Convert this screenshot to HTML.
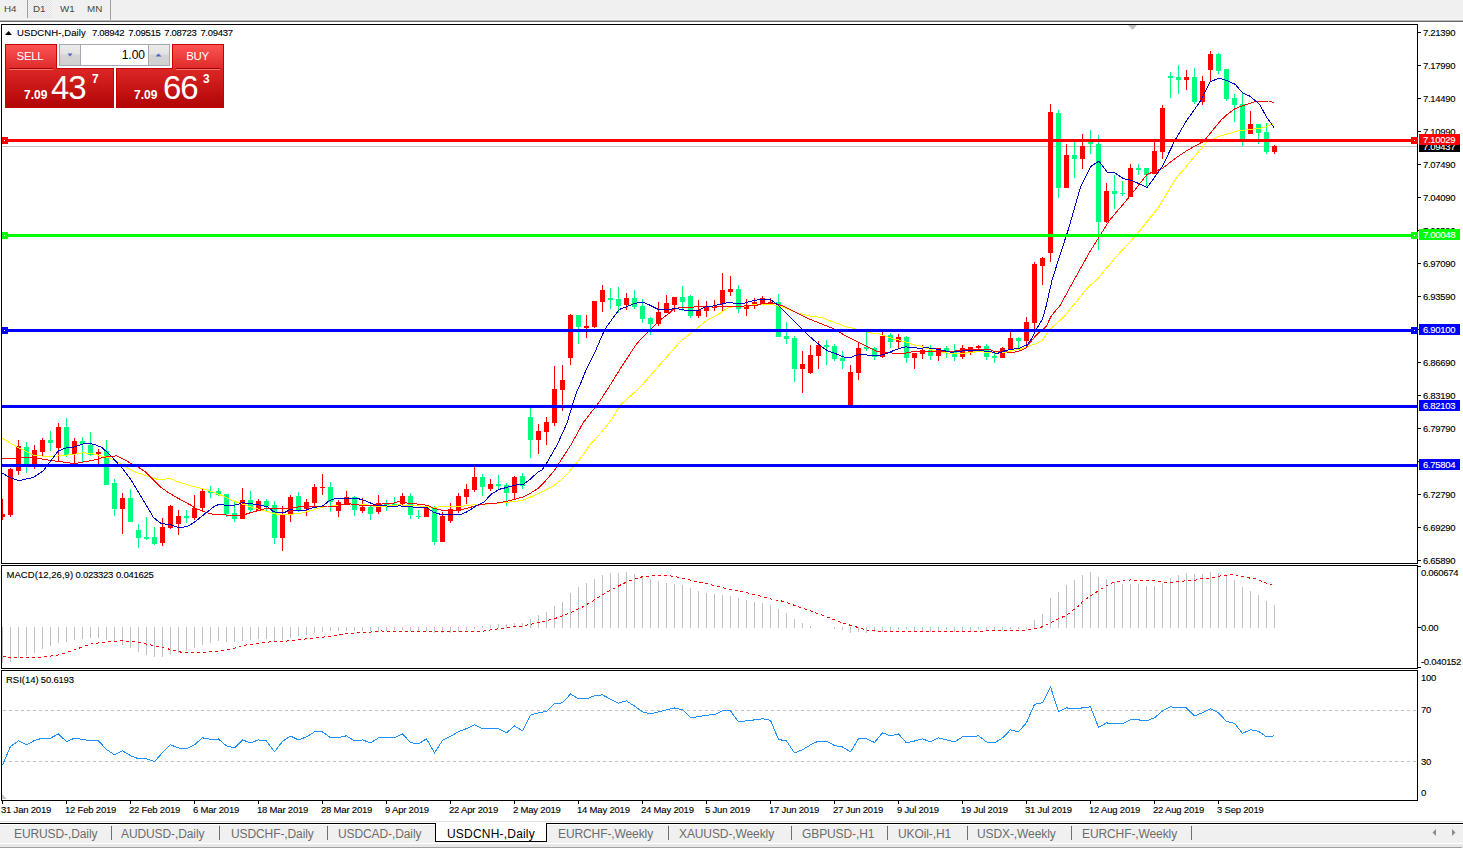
<!DOCTYPE html><html><head><meta charset="utf-8"><title>MT4</title><style>html,body{margin:0;padding:0;background:#fff;width:1463px;height:848px;overflow:hidden;font-family:"Liberation Sans",sans-serif}</style></head><body><svg width="1463" height="848" viewBox="0 0 1463 848" style="position:absolute;left:0;top:0;font-family:'Liberation Sans', sans-serif">
<defs><linearGradient id="gbtn" x1="0" y1="0" x2="0" y2="1"><stop offset="0" stop-color="#ff5555"/><stop offset="1" stop-color="#dd2a2a"/></linearGradient><linearGradient id="gbox" x1="0" y1="0" x2="0" y2="1"><stop offset="0" stop-color="#dc2626"/><stop offset="1" stop-color="#b00404"/></linearGradient><linearGradient id="gspin" x1="0" y1="0" x2="0" y2="1"><stop offset="0" stop-color="#ececec"/><stop offset="0.45" stop-color="#e2e2e2"/><stop offset="0.5" stop-color="#d4d4d4"/><stop offset="1" stop-color="#d0d0d0"/></linearGradient><pattern id="chk" width="2" height="2" patternUnits="userSpaceOnUse"><rect width="2" height="2" fill="#f4f4f4"/><rect width="1" height="1" fill="#e4e4e4"/><rect x="1" y="1" width="1" height="1" fill="#e4e4e4"/></pattern></defs>
<rect x="0" y="0" width="1463" height="848" fill="#ffffff" />
<rect x="0" y="0" width="1463" height="19" fill="#f0f0f0" />
<rect x="0" y="19" width="1463" height="1" fill="#f8f8f8" />
<rect x="0" y="20" width="1463" height="1" fill="#b4b4b4" />
<rect x="0" y="21" width="1463" height="1" fill="#6c6c6c" />
<rect x="28" y="0" width="24" height="18" fill="url(#chk)" />
<rect x="27" y="0" width="1" height="18" fill="#a0a0a0" />
<rect x="110" y="0" width="1" height="20" fill="#a0a0a0" />
<text x="4" y="12" font-size="9.8" fill="#474747">H4</text>
<text x="33" y="12" font-size="9.8" fill="#474747">D1</text>
<text x="60" y="12" font-size="9.8" fill="#474747">W1</text>
<text x="87" y="12" font-size="9.8" fill="#474747">MN</text>
<clipPath id="cm"><rect x="2" y="25" width="1415" height="538"/></clipPath>
<clipPath id="cmacd"><rect x="2" y="566" width="1415" height="102"/></clipPath>
<clipPath id="crsi"><rect x="2" y="671" width="1415" height="129"/></clipPath>
<g clip-path="url(#cm)">
<rect x="2" y="146" width="1415" height="1" fill="#c0c0c0" />
<polygon points="1128,25 1137,25 1132.5,30" fill="#c0c0c0"/>
<g shape-rendering="crispEdges">
<rect x="2" y="499" width="1" height="21" fill="#ff0000"/>
<rect x="0" y="514" width="5" height="3" fill="#ff0000"/>
<rect x="10" y="468" width="1" height="49" fill="#ff0000"/>
<rect x="8" y="469" width="5" height="46" fill="#ff0000"/>
<rect x="18" y="440" width="1" height="35" fill="#ff0000"/>
<rect x="16" y="446" width="5" height="25" fill="#ff0000"/>
<rect x="26" y="442" width="1" height="31" fill="#00ff7f"/>
<rect x="24" y="447" width="5" height="17" fill="#00ff7f"/>
<rect x="34" y="445" width="1" height="24" fill="#ff0000"/>
<rect x="32" y="450" width="5" height="15" fill="#ff0000"/>
<rect x="42" y="438" width="1" height="18" fill="#ff0000"/>
<rect x="40" y="440" width="5" height="12" fill="#ff0000"/>
<rect x="50" y="431" width="1" height="20" fill="#00ff7f"/>
<rect x="48" y="440" width="5" height="3" fill="#00ff7f"/>
<rect x="58" y="423" width="1" height="39" fill="#ff0000"/>
<rect x="56" y="427" width="5" height="21" fill="#ff0000"/>
<rect x="66" y="418" width="1" height="39" fill="#00ff7f"/>
<rect x="64" y="427" width="5" height="28" fill="#00ff7f"/>
<rect x="74" y="438" width="1" height="26" fill="#ff0000"/>
<rect x="72" y="441" width="5" height="13" fill="#ff0000"/>
<rect x="82" y="437" width="1" height="25" fill="#00ff7f"/>
<rect x="80" y="441" width="5" height="3" fill="#00ff7f"/>
<rect x="90" y="432" width="1" height="24" fill="#00ff7f"/>
<rect x="88" y="445" width="5" height="10" fill="#00ff7f"/>
<rect x="98" y="449" width="1" height="15" fill="#ff0000"/>
<rect x="96" y="452" width="5" height="2" fill="#ff0000"/>
<rect x="106" y="440" width="1" height="45" fill="#00ff7f"/>
<rect x="104" y="451" width="5" height="34" fill="#00ff7f"/>
<rect x="114" y="479" width="1" height="37" fill="#00ff7f"/>
<rect x="112" y="483" width="5" height="26" fill="#00ff7f"/>
<rect x="122" y="493" width="1" height="41" fill="#ff0000"/>
<rect x="120" y="498" width="5" height="11" fill="#ff0000"/>
<rect x="130" y="489" width="1" height="33" fill="#00ff7f"/>
<rect x="128" y="498" width="5" height="24" fill="#00ff7f"/>
<rect x="138" y="524" width="1" height="24" fill="#00ff7f"/>
<rect x="136" y="530" width="5" height="8" fill="#00ff7f"/>
<rect x="146" y="517" width="1" height="23" fill="#00ff7f"/>
<rect x="144" y="537" width="5" height="2" fill="#00ff7f"/>
<rect x="154" y="527" width="1" height="18" fill="#00ff7f"/>
<rect x="152" y="537" width="5" height="7" fill="#00ff7f"/>
<rect x="162" y="518" width="1" height="28" fill="#ff0000"/>
<rect x="160" y="527" width="5" height="16" fill="#ff0000"/>
<rect x="170" y="505" width="1" height="24" fill="#ff0000"/>
<rect x="168" y="506" width="5" height="22" fill="#ff0000"/>
<rect x="178" y="510" width="1" height="25" fill="#ff0000"/>
<rect x="176" y="516" width="5" height="8" fill="#ff0000"/>
<rect x="186" y="510" width="1" height="13" fill="#00ff7f"/>
<rect x="184" y="516" width="5" height="2" fill="#00ff7f"/>
<rect x="194" y="495" width="1" height="25" fill="#ff0000"/>
<rect x="192" y="508" width="5" height="10" fill="#ff0000"/>
<rect x="202" y="489" width="1" height="22" fill="#ff0000"/>
<rect x="200" y="491" width="5" height="17" fill="#ff0000"/>
<rect x="210" y="486" width="1" height="12" fill="#00ff7f"/>
<rect x="208" y="491" width="5" height="2" fill="#00ff7f"/>
<rect x="218" y="488" width="1" height="8" fill="#00ff7f"/>
<rect x="216" y="491" width="5" height="4" fill="#00ff7f"/>
<rect x="226" y="494" width="1" height="23" fill="#00ff7f"/>
<rect x="224" y="494" width="5" height="20" fill="#00ff7f"/>
<rect x="234" y="502" width="1" height="20" fill="#00ff7f"/>
<rect x="232" y="513" width="5" height="6" fill="#00ff7f"/>
<rect x="242" y="488" width="1" height="31" fill="#ff0000"/>
<rect x="240" y="500" width="5" height="19" fill="#ff0000"/>
<rect x="250" y="491" width="1" height="21" fill="#00ff7f"/>
<rect x="248" y="500" width="5" height="10" fill="#00ff7f"/>
<rect x="258" y="499" width="1" height="12" fill="#ff0000"/>
<rect x="256" y="501" width="5" height="10" fill="#ff0000"/>
<rect x="266" y="499" width="1" height="12" fill="#00ff7f"/>
<rect x="264" y="501" width="5" height="5" fill="#00ff7f"/>
<rect x="274" y="501" width="1" height="43" fill="#00ff7f"/>
<rect x="272" y="505" width="5" height="33" fill="#00ff7f"/>
<rect x="282" y="506" width="1" height="45" fill="#ff0000"/>
<rect x="280" y="514" width="5" height="24" fill="#ff0000"/>
<rect x="290" y="495" width="1" height="27" fill="#ff0000"/>
<rect x="288" y="497" width="5" height="18" fill="#ff0000"/>
<rect x="298" y="492" width="1" height="20" fill="#00ff7f"/>
<rect x="296" y="496" width="5" height="14" fill="#00ff7f"/>
<rect x="306" y="499" width="1" height="17" fill="#ff0000"/>
<rect x="304" y="502" width="5" height="7" fill="#ff0000"/>
<rect x="314" y="484" width="1" height="23" fill="#ff0000"/>
<rect x="312" y="487" width="5" height="16" fill="#ff0000"/>
<rect x="322" y="474" width="1" height="21" fill="#ff0000"/>
<rect x="320" y="487" width="5" height="1" fill="#ff0000"/>
<rect x="330" y="482" width="1" height="30" fill="#00ff7f"/>
<rect x="328" y="487" width="5" height="15" fill="#00ff7f"/>
<rect x="338" y="500" width="1" height="17" fill="#ff0000"/>
<rect x="336" y="502" width="5" height="9" fill="#ff0000"/>
<rect x="346" y="491" width="1" height="13" fill="#ff0000"/>
<rect x="344" y="497" width="5" height="7" fill="#ff0000"/>
<rect x="354" y="496" width="1" height="20" fill="#00ff7f"/>
<rect x="352" y="497" width="5" height="13" fill="#00ff7f"/>
<rect x="362" y="498" width="1" height="15" fill="#ff0000"/>
<rect x="360" y="507" width="5" height="4" fill="#ff0000"/>
<rect x="370" y="506" width="1" height="14" fill="#00ff7f"/>
<rect x="368" y="507" width="5" height="7" fill="#00ff7f"/>
<rect x="378" y="495" width="1" height="19" fill="#ff0000"/>
<rect x="376" y="503" width="5" height="9" fill="#ff0000"/>
<rect x="386" y="500" width="1" height="11" fill="#00ff7f"/>
<rect x="384" y="503" width="5" height="2" fill="#00ff7f"/>
<rect x="394" y="497" width="1" height="8" fill="#00ff7f"/>
<rect x="392" y="504" width="5" height="1" fill="#00ff7f"/>
<rect x="402" y="493" width="1" height="14" fill="#ff0000"/>
<rect x="400" y="496" width="5" height="8" fill="#ff0000"/>
<rect x="410" y="493" width="1" height="26" fill="#00ff7f"/>
<rect x="408" y="496" width="5" height="19" fill="#00ff7f"/>
<rect x="418" y="510" width="1" height="9" fill="#00ff7f"/>
<rect x="416" y="516" width="5" height="1" fill="#00ff7f"/>
<rect x="426" y="508" width="1" height="9" fill="#ff0000"/>
<rect x="424" y="508" width="5" height="9" fill="#ff0000"/>
<rect x="434" y="506" width="1" height="39" fill="#00ff7f"/>
<rect x="432" y="508" width="5" height="34" fill="#00ff7f"/>
<rect x="442" y="512" width="1" height="30" fill="#ff0000"/>
<rect x="440" y="516" width="5" height="26" fill="#ff0000"/>
<rect x="450" y="503" width="1" height="20" fill="#ff0000"/>
<rect x="448" y="509" width="5" height="12" fill="#ff0000"/>
<rect x="458" y="493" width="1" height="20" fill="#ff0000"/>
<rect x="456" y="496" width="5" height="15" fill="#ff0000"/>
<rect x="466" y="484" width="1" height="20" fill="#ff0000"/>
<rect x="464" y="489" width="5" height="8" fill="#ff0000"/>
<rect x="474" y="467" width="1" height="25" fill="#ff0000"/>
<rect x="472" y="477" width="5" height="13" fill="#ff0000"/>
<rect x="482" y="474" width="1" height="22" fill="#00ff7f"/>
<rect x="480" y="477" width="5" height="10" fill="#00ff7f"/>
<rect x="490" y="479" width="1" height="12" fill="#ff0000"/>
<rect x="488" y="484" width="5" height="5" fill="#ff0000"/>
<rect x="498" y="475" width="1" height="15" fill="#00ff7f"/>
<rect x="496" y="484" width="5" height="2" fill="#00ff7f"/>
<rect x="506" y="483" width="1" height="23" fill="#00ff7f"/>
<rect x="504" y="485" width="5" height="8" fill="#00ff7f"/>
<rect x="514" y="476" width="1" height="24" fill="#ff0000"/>
<rect x="512" y="477" width="5" height="16" fill="#ff0000"/>
<rect x="522" y="473" width="1" height="16" fill="#00ff7f"/>
<rect x="520" y="476" width="5" height="10" fill="#00ff7f"/>
<rect x="530" y="408" width="1" height="50" fill="#00ff7f"/>
<rect x="528" y="417" width="5" height="23" fill="#00ff7f"/>
<rect x="538" y="424" width="1" height="30" fill="#ff0000"/>
<rect x="536" y="431" width="5" height="9" fill="#ff0000"/>
<rect x="546" y="417" width="1" height="28" fill="#ff0000"/>
<rect x="544" y="422" width="5" height="10" fill="#ff0000"/>
<rect x="554" y="366" width="1" height="60" fill="#ff0000"/>
<rect x="552" y="389" width="5" height="34" fill="#ff0000"/>
<rect x="562" y="365" width="1" height="46" fill="#ff0000"/>
<rect x="560" y="380" width="5" height="10" fill="#ff0000"/>
<rect x="570" y="314" width="1" height="51" fill="#ff0000"/>
<rect x="568" y="315" width="5" height="43" fill="#ff0000"/>
<rect x="578" y="315" width="1" height="29" fill="#00ff7f"/>
<rect x="576" y="315" width="5" height="12" fill="#00ff7f"/>
<rect x="586" y="315" width="1" height="23" fill="#ff0000"/>
<rect x="584" y="326" width="5" height="2" fill="#ff0000"/>
<rect x="594" y="301" width="1" height="27" fill="#ff0000"/>
<rect x="592" y="301" width="5" height="26" fill="#ff0000"/>
<rect x="602" y="285" width="1" height="27" fill="#ff0000"/>
<rect x="600" y="290" width="5" height="12" fill="#ff0000"/>
<rect x="610" y="288" width="1" height="21" fill="#00ff7f"/>
<rect x="608" y="298" width="5" height="2" fill="#00ff7f"/>
<rect x="618" y="287" width="1" height="26" fill="#00ff7f"/>
<rect x="616" y="299" width="5" height="7" fill="#00ff7f"/>
<rect x="626" y="293" width="1" height="17" fill="#ff0000"/>
<rect x="624" y="298" width="5" height="7" fill="#ff0000"/>
<rect x="634" y="290" width="1" height="19" fill="#00ff7f"/>
<rect x="632" y="298" width="5" height="9" fill="#00ff7f"/>
<rect x="642" y="299" width="1" height="24" fill="#00ff7f"/>
<rect x="640" y="306" width="5" height="13" fill="#00ff7f"/>
<rect x="650" y="317" width="1" height="18" fill="#00ff7f"/>
<rect x="648" y="318" width="5" height="6" fill="#00ff7f"/>
<rect x="658" y="302" width="1" height="24" fill="#ff0000"/>
<rect x="656" y="312" width="5" height="12" fill="#ff0000"/>
<rect x="666" y="295" width="1" height="18" fill="#ff0000"/>
<rect x="664" y="303" width="5" height="10" fill="#ff0000"/>
<rect x="674" y="297" width="1" height="15" fill="#ff0000"/>
<rect x="672" y="297" width="5" height="8" fill="#ff0000"/>
<rect x="682" y="286" width="1" height="25" fill="#00ff7f"/>
<rect x="680" y="297" width="5" height="5" fill="#00ff7f"/>
<rect x="690" y="295" width="1" height="23" fill="#00ff7f"/>
<rect x="688" y="296" width="5" height="20" fill="#00ff7f"/>
<rect x="698" y="300" width="1" height="18" fill="#ff0000"/>
<rect x="696" y="310" width="5" height="6" fill="#ff0000"/>
<rect x="706" y="301" width="1" height="16" fill="#ff0000"/>
<rect x="704" y="306" width="5" height="5" fill="#ff0000"/>
<rect x="714" y="300" width="1" height="11" fill="#ff0000"/>
<rect x="712" y="307" width="5" height="1" fill="#ff0000"/>
<rect x="722" y="273" width="1" height="38" fill="#ff0000"/>
<rect x="720" y="290" width="5" height="14" fill="#ff0000"/>
<rect x="730" y="276" width="1" height="20" fill="#ff0000"/>
<rect x="728" y="289" width="5" height="3" fill="#ff0000"/>
<rect x="738" y="285" width="1" height="28" fill="#00ff7f"/>
<rect x="736" y="289" width="5" height="20" fill="#00ff7f"/>
<rect x="746" y="299" width="1" height="17" fill="#ff0000"/>
<rect x="744" y="306" width="5" height="3" fill="#ff0000"/>
<rect x="754" y="298" width="1" height="11" fill="#ff0000"/>
<rect x="752" y="302" width="5" height="4" fill="#ff0000"/>
<rect x="762" y="296" width="1" height="8" fill="#ff0000"/>
<rect x="760" y="298" width="5" height="6" fill="#ff0000"/>
<rect x="770" y="298" width="1" height="6" fill="#ff0000"/>
<rect x="768" y="302" width="5" height="2" fill="#ff0000"/>
<rect x="778" y="294" width="1" height="43" fill="#00ff7f"/>
<rect x="776" y="302" width="5" height="35" fill="#00ff7f"/>
<rect x="786" y="322" width="1" height="22" fill="#00ff7f"/>
<rect x="784" y="336" width="5" height="3" fill="#00ff7f"/>
<rect x="794" y="336" width="1" height="46" fill="#00ff7f"/>
<rect x="792" y="338" width="5" height="31" fill="#00ff7f"/>
<rect x="802" y="351" width="1" height="42" fill="#ff0000"/>
<rect x="800" y="364" width="5" height="5" fill="#ff0000"/>
<rect x="810" y="345" width="1" height="29" fill="#ff0000"/>
<rect x="808" y="355" width="5" height="18" fill="#ff0000"/>
<rect x="818" y="341" width="1" height="28" fill="#ff0000"/>
<rect x="816" y="345" width="5" height="11" fill="#ff0000"/>
<rect x="826" y="340" width="1" height="25" fill="#00ff7f"/>
<rect x="824" y="345" width="5" height="2" fill="#00ff7f"/>
<rect x="834" y="344" width="1" height="17" fill="#00ff7f"/>
<rect x="832" y="346" width="5" height="13" fill="#00ff7f"/>
<rect x="842" y="351" width="1" height="18" fill="#00ff7f"/>
<rect x="840" y="358" width="5" height="3" fill="#00ff7f"/>
<rect x="850" y="365" width="1" height="40" fill="#ff0000"/>
<rect x="848" y="372" width="5" height="33" fill="#ff0000"/>
<rect x="858" y="342" width="1" height="38" fill="#ff0000"/>
<rect x="856" y="348" width="5" height="25" fill="#ff0000"/>
<rect x="866" y="332" width="1" height="19" fill="#00ff7f"/>
<rect x="864" y="347" width="5" height="2" fill="#00ff7f"/>
<rect x="874" y="347" width="1" height="13" fill="#00ff7f"/>
<rect x="872" y="348" width="5" height="9" fill="#00ff7f"/>
<rect x="882" y="332" width="1" height="26" fill="#ff0000"/>
<rect x="880" y="336" width="5" height="21" fill="#ff0000"/>
<rect x="890" y="333" width="1" height="15" fill="#00ff7f"/>
<rect x="888" y="335" width="5" height="7" fill="#00ff7f"/>
<rect x="898" y="334" width="1" height="14" fill="#ff0000"/>
<rect x="896" y="337" width="5" height="5" fill="#ff0000"/>
<rect x="906" y="336" width="1" height="27" fill="#00ff7f"/>
<rect x="904" y="337" width="5" height="21" fill="#00ff7f"/>
<rect x="914" y="353" width="1" height="16" fill="#ff0000"/>
<rect x="912" y="353" width="5" height="5" fill="#ff0000"/>
<rect x="922" y="345" width="1" height="14" fill="#ff0000"/>
<rect x="920" y="350" width="5" height="4" fill="#ff0000"/>
<rect x="930" y="345" width="1" height="15" fill="#00ff7f"/>
<rect x="928" y="350" width="5" height="6" fill="#00ff7f"/>
<rect x="938" y="348" width="1" height="13" fill="#ff0000"/>
<rect x="936" y="348" width="5" height="8" fill="#ff0000"/>
<rect x="946" y="346" width="1" height="12" fill="#00ff7f"/>
<rect x="944" y="348" width="5" height="4" fill="#00ff7f"/>
<rect x="954" y="344" width="1" height="17" fill="#00ff7f"/>
<rect x="952" y="352" width="5" height="5" fill="#00ff7f"/>
<rect x="962" y="345" width="1" height="14" fill="#ff0000"/>
<rect x="960" y="348" width="5" height="9" fill="#ff0000"/>
<rect x="970" y="347" width="1" height="8" fill="#ff0000"/>
<rect x="968" y="347" width="5" height="6" fill="#ff0000"/>
<rect x="978" y="345" width="1" height="7" fill="#ff0000"/>
<rect x="976" y="346" width="5" height="2" fill="#ff0000"/>
<rect x="986" y="344" width="1" height="16" fill="#00ff7f"/>
<rect x="984" y="346" width="5" height="11" fill="#00ff7f"/>
<rect x="994" y="352" width="1" height="11" fill="#00ff7f"/>
<rect x="992" y="356" width="5" height="2" fill="#00ff7f"/>
<rect x="1002" y="347" width="1" height="11" fill="#ff0000"/>
<rect x="1000" y="348" width="5" height="10" fill="#ff0000"/>
<rect x="1010" y="332" width="1" height="21" fill="#ff0000"/>
<rect x="1008" y="338" width="5" height="12" fill="#ff0000"/>
<rect x="1018" y="337" width="1" height="11" fill="#00ff7f"/>
<rect x="1016" y="338" width="5" height="3" fill="#00ff7f"/>
<rect x="1026" y="317" width="1" height="27" fill="#ff0000"/>
<rect x="1024" y="322" width="5" height="19" fill="#ff0000"/>
<rect x="1034" y="262" width="1" height="68" fill="#ff0000"/>
<rect x="1032" y="264" width="5" height="59" fill="#ff0000"/>
<rect x="1042" y="257" width="1" height="28" fill="#ff0000"/>
<rect x="1040" y="258" width="5" height="8" fill="#ff0000"/>
<rect x="1050" y="104" width="1" height="158" fill="#ff0000"/>
<rect x="1048" y="112" width="5" height="141" fill="#ff0000"/>
<rect x="1058" y="110" width="1" height="88" fill="#00ff7f"/>
<rect x="1056" y="113" width="5" height="75" fill="#00ff7f"/>
<rect x="1066" y="144" width="1" height="44" fill="#ff0000"/>
<rect x="1064" y="155" width="5" height="33" fill="#ff0000"/>
<rect x="1074" y="142" width="1" height="36" fill="#00ff7f"/>
<rect x="1072" y="155" width="5" height="4" fill="#00ff7f"/>
<rect x="1082" y="134" width="1" height="35" fill="#ff0000"/>
<rect x="1080" y="146" width="5" height="13" fill="#ff0000"/>
<rect x="1090" y="130" width="1" height="24" fill="#00ff7f"/>
<rect x="1088" y="142" width="5" height="2" fill="#00ff7f"/>
<rect x="1098" y="135" width="1" height="115" fill="#00ff7f"/>
<rect x="1096" y="144" width="5" height="78" fill="#00ff7f"/>
<rect x="1106" y="183" width="1" height="40" fill="#ff0000"/>
<rect x="1104" y="191" width="5" height="31" fill="#ff0000"/>
<rect x="1114" y="175" width="1" height="34" fill="#00ff7f"/>
<rect x="1112" y="191" width="5" height="3" fill="#00ff7f"/>
<rect x="1122" y="181" width="1" height="15" fill="#00ff7f"/>
<rect x="1120" y="193" width="5" height="1" fill="#00ff7f"/>
<rect x="1130" y="164" width="1" height="33" fill="#ff0000"/>
<rect x="1128" y="168" width="5" height="29" fill="#ff0000"/>
<rect x="1138" y="164" width="1" height="11" fill="#00ff7f"/>
<rect x="1136" y="168" width="5" height="2" fill="#00ff7f"/>
<rect x="1146" y="168" width="1" height="18" fill="#00ff7f"/>
<rect x="1144" y="168" width="5" height="7" fill="#00ff7f"/>
<rect x="1154" y="142" width="1" height="32" fill="#ff0000"/>
<rect x="1152" y="151" width="5" height="23" fill="#ff0000"/>
<rect x="1162" y="105" width="1" height="54" fill="#ff0000"/>
<rect x="1160" y="108" width="5" height="44" fill="#ff0000"/>
<rect x="1170" y="72" width="1" height="26" fill="#00ff7f"/>
<rect x="1168" y="76" width="5" height="2" fill="#00ff7f"/>
<rect x="1178" y="65" width="1" height="29" fill="#00ff7f"/>
<rect x="1176" y="77" width="5" height="3" fill="#00ff7f"/>
<rect x="1186" y="70" width="1" height="20" fill="#ff0000"/>
<rect x="1184" y="77" width="5" height="3" fill="#ff0000"/>
<rect x="1194" y="68" width="1" height="36" fill="#00ff7f"/>
<rect x="1192" y="77" width="5" height="25" fill="#00ff7f"/>
<rect x="1202" y="76" width="1" height="29" fill="#ff0000"/>
<rect x="1200" y="81" width="5" height="21" fill="#ff0000"/>
<rect x="1210" y="51" width="1" height="31" fill="#ff0000"/>
<rect x="1208" y="54" width="5" height="16" fill="#ff0000"/>
<rect x="1218" y="53" width="1" height="21" fill="#00ff7f"/>
<rect x="1216" y="54" width="5" height="17" fill="#00ff7f"/>
<rect x="1226" y="69" width="1" height="32" fill="#00ff7f"/>
<rect x="1224" y="69" width="5" height="30" fill="#00ff7f"/>
<rect x="1234" y="94" width="1" height="28" fill="#00ff7f"/>
<rect x="1232" y="98" width="5" height="7" fill="#00ff7f"/>
<rect x="1242" y="93" width="1" height="53" fill="#00ff7f"/>
<rect x="1240" y="104" width="5" height="35" fill="#00ff7f"/>
<rect x="1250" y="111" width="1" height="23" fill="#ff0000"/>
<rect x="1248" y="124" width="5" height="10" fill="#ff0000"/>
<rect x="1258" y="124" width="1" height="20" fill="#00ff7f"/>
<rect x="1256" y="124" width="5" height="9" fill="#00ff7f"/>
<rect x="1266" y="123" width="1" height="31" fill="#00ff7f"/>
<rect x="1264" y="132" width="5" height="20" fill="#00ff7f"/>
<rect x="1274" y="145" width="1" height="9" fill="#ff0000"/>
<rect x="1272" y="146" width="5" height="6" fill="#ff0000"/>
</g>
<polyline points="2.5,438.5 17.0,446.9 33.5,455.1 50.0,456.8 58.3,455.9 74.8,454.3 83.0,452.5 91.3,453.8 94.5,454.1 101.9,456.3 109.2,457.8 116.6,461.5 124.0,465.9 131.4,470.3 138.7,473.3 146.1,475.5 153.5,478.4 160.9,479.9 169.7,478.4 177.1,481.4 185.9,484.3 190.5,485.9 196.4,487.0 202.3,488.8 208.2,490.2 214.1,492.6 220.0,494.7 225.9,497.6 231.8,500.4 237.7,502.4 243.5,504.4 249.5,506.5 255.4,508.3 261.3,510.0 267.2,511.4 273.0,513.3 278.9,514.5 290.5,514.1 298.9,513.8 307.1,511.7 315.4,509.3 323.7,506.6 331.9,506.0 344.3,504.7 356.7,504.7 364.9,504.7 373.2,506.0 382.5,506.5 391.5,505.7 399.3,504.8 410.5,505.7 421.7,506.1 432.9,507.6 439.6,506.8 451.9,506.8 460.9,506.5 472.1,504.8 482.5,504.5 491.5,503.6 507.0,502.3 522.6,500.4 530.4,497.1 538.2,493.6 545.9,490.0 553.7,485.5 561.5,479.6 570.2,470.5 583.0,454.8 590.4,444.2 600.5,433.5 610.9,420.5 620.5,405.0 640.1,387.2 664.9,359.0 680.7,341.3 694.0,330.5 707.2,320.0 720.5,313.0 721.9,311.5 728.9,307.5 734.2,306.6 744.0,306.3 752.8,304.8 761.7,304.4 771.4,304.4 779.3,306.3 782.5,307.0 795.5,312.2 808.5,315.8 821.4,317.4 834.4,322.5 847.4,327.1 857.7,329.3 873.3,333.6 878.5,333.8 885.3,335.9 892.2,338.6 899.0,340.0 905.8,342.0 912.7,344.4 919.5,346.1 926.3,348.2 933.2,350.2 940.0,351.9 946.9,353.0 953.7,354.0 955.5,353.0 966.5,353.0 967.5,352.0 974.5,352.0 975.5,351.0 983.5,351.0 984.5,352.0 1006.5,352.0 1007.5,351.0 1010.5,351.0 1019.9,349.2 1028.2,346.3 1036.4,343.4 1043.0,339.7 1048.8,330.2 1055.4,324.5 1063.7,317.0 1074.5,303.8 1088.8,286.4 1096.2,280.5 1115.5,257.5 1135.8,235.7 1158.4,207.4 1175.4,179.1 1192.3,159.3 1206.5,142.3 1217.8,136.7 1237.6,131.0 1260.2,128.2 1266.5,126.5 1271.3,124.6 1274.5,123.7" fill="none" stroke="#ffff00" stroke-width="1" stroke-linejoin="round" shape-rendering="crispEdges" />
<polyline points="2.5,458.7 17.0,458.1 33.5,457.5 50.0,460.4 66.5,462.5 74.8,463.7 83.0,462.0 94.5,460.0 101.9,457.8 109.2,456.3 116.6,455.9 124.0,459.3 131.4,463.7 138.7,467.4 146.1,472.5 153.5,479.9 160.9,487.3 168.2,492.4 175.6,496.9 183.0,501.0 190.4,505.0 196.4,508.8 202.3,511.0 208.2,513.0 214.1,514.5 225.9,515.0 231.8,515.9 237.7,515.9 243.5,515.0 249.5,513.0 255.4,511.4 261.3,509.8 267.2,508.3 273.0,508.6 284.8,508.8 290.5,507.7 300.5,506.8 310.5,506.8 319.5,506.6 327.5,506.0 335.5,506.8 340.5,505.0 350.5,503.9 358.5,505.0 368.5,505.8 377.5,505.0 382.5,503.9 393.5,503.1 399.5,501.4 407.5,503.1 416.5,503.9 427.5,505.3 433.5,508.1 441.5,510.1 450.5,510.4 458.5,510.4 467.5,508.1 475.5,505.9 482.5,504.2 495.5,503.2 508.5,501.0 522.5,497.1 530.5,493.2 538.5,488.0 545.5,480.9 554.3,470.5 571.3,444.2 583.0,423.0 599.4,401.7 608.2,388.2 620.5,368.4 635.5,345.5 640.0,339.9 648.3,331.7 654.9,325.0 661.5,318.9 668.9,313.5 673.1,309.4 678.9,307.9 690.5,307.9 697.1,306.2 704.2,306.3 713.0,307.1 721.9,306.6 730.7,306.3 739.5,306.3 748.4,305.7 757.2,305.1 764.3,303.1 771.4,303.1 779.3,304.8 782.5,305.9 795.5,312.2 808.5,318.7 821.4,323.8 834.4,329.0 844.8,335.5 855.1,340.7 865.5,345.6 875.9,351.1 882.5,352.4 892.2,353.0 905.8,353.0 911.3,351.9 918.1,351.9 922.9,350.9 927.7,351.6 940.0,351.9 953.7,351.9 955.5,351.0 960.5,349.9 965.5,349.7 990.5,349.7 992.5,351.0 999.5,351.0 1006.5,352.0 1010.5,352.0 1014.1,352.1 1019.9,350.9 1025.7,348.4 1029.0,343.7 1037.5,333.8 1046.0,326.7 1051.6,315.4 1060.1,305.5 1068.6,289.9 1080.5,268.4 1090.5,250.7 1109.4,220.5 1130.1,196.0 1147.1,174.3 1162.2,168.6 1175.4,158.2 1186.7,150.7 1203.7,141.3 1220.7,120.5 1226.8,114.8 1235.3,108.5 1245.2,104.9 1256.5,101.3 1268.9,101.0 1274.0,102.8" fill="none" stroke="#ff0000" stroke-width="1" stroke-linejoin="round" shape-rendering="crispEdges" />
<polyline points="2.5,473.3 10.4,477.9 18.7,480.7 33.5,477.4 43.4,470.8 50.0,461.7 58.3,451.0 66.5,447.7 74.8,446.9 83.0,443.9 91.3,443.9 94.5,444.5 101.9,447.5 109.2,454.1 116.6,462.2 124.0,470.3 131.4,480.6 138.7,492.5 146.1,505.0 153.5,517.5 160.9,523.4 171.2,524.9 179.3,527.8 187.4,526.4 190.5,524.8 196.4,520.6 202.3,515.9 208.2,511.2 214.1,506.5 220.0,503.9 225.9,505.5 231.8,505.9 237.7,504.4 242.4,502.4 249.5,503.9 255.4,504.1 261.3,505.5 267.2,506.5 273.0,511.4 278.9,513.0 284.8,512.4 290.5,509.4 295.6,510.8 301.8,510.8 307.1,509.7 313.7,507.6 322.8,505.8 329.4,500.6 334.8,498.7 344.3,498.7 358.3,498.7 364.1,500.2 370.7,503.1 376.5,505.1 386.5,506.0 391.5,506.8 399.3,505.9 407.1,506.5 415.0,507.2 427.3,507.9 434.0,512.6 440.7,514.3 449.7,514.9 459.8,514.9 466.5,512.1 475.4,506.5 483.7,502.3 491.5,493.9 499.3,489.3 507.0,487.4 514.8,485.1 523.2,484.5 530.4,479.0 538.2,471.8 541.5,470.5 545.3,465.5 557.5,444.2 567.0,423.0 571.8,407.0 577.1,391.1 581.9,380.5 585.5,371.2 594.1,354.2 602.5,334.5 606.2,327.5 612.0,319.3 619.4,309.4 625.2,307.3 633.4,304.0 640.0,302.3 644.2,302.8 650.0,305.2 659.0,309.8 669.8,309.8 673.1,308.5 678.9,308.9 687.1,310.6 693.6,311.0 698.9,310.2 704.2,307.1 713.0,306.0 721.9,304.0 727.2,302.8 735.1,303.1 743.1,303.5 750.2,301.3 759.9,299.5 770.5,299.5 777.6,304.8 782.5,309.6 790.3,317.4 798.1,325.1 805.8,332.9 813.6,340.1 821.4,346.5 827.9,351.1 835.7,353.7 843.5,356.9 849.9,357.8 857.7,354.7 866.8,355.0 875.9,356.0 882.5,354.7 889.4,352.6 894.2,350.2 900.4,348.2 905.8,346.8 911.3,347.5 919.5,348.2 926.3,347.8 933.2,348.4 940.0,349.9 946.9,351.3 952.3,352.6 955.5,351.5 967.4,350.6 978.5,350.1 983.5,351.0 989.5,351.0 994.5,353.0 998.5,353.0 1004.5,351.0 1009.5,349.7 1019.9,348.0 1027.3,344.7 1032.3,337.7 1037.3,327.8 1042.2,319.5 1045.5,308.8 1052.0,280.3 1061.2,251.1 1068.8,228.1 1080.4,187.5 1090.5,166.7 1099.0,161.1 1107.5,172.4 1115.0,173.0 1123.5,178.6 1132.0,180.5 1147.1,187.5 1162.2,166.7 1175.4,139.4 1186.7,120.5 1200.5,100.9 1210.0,82.0 1219.0,78.0 1226.8,80.6 1235.3,84.4 1242.5,92.8 1249.5,96.0 1256.0,101.3 1259.8,104.9 1267.2,118.1 1271.3,123.5 1274.0,127.9" fill="none" stroke="#0000c8" stroke-width="1" stroke-linejoin="round" shape-rendering="crispEdges" />
<rect x="2" y="139" width="1415" height="3" fill="#ff0000" shape-rendering="crispEdges"/>
<rect x="1" y="137" width="7" height="7" fill="#ff0000" />
<rect x="4" y="140" width="1" height="1" fill="#ffffff" />
<rect x="1411" y="137" width="7" height="7" fill="#ff0000" />
<rect x="1414" y="140" width="1" height="1" fill="#ffffff" />
<rect x="2" y="234" width="1415" height="3" fill="#00ff00" shape-rendering="crispEdges"/>
<rect x="1" y="232" width="7" height="7" fill="#00ff00" />
<rect x="4" y="235" width="1" height="1" fill="#ffffff" />
<rect x="1411" y="232" width="7" height="7" fill="#00ff00" />
<rect x="1414" y="235" width="1" height="1" fill="#ffffff" />
<rect x="2" y="329" width="1415" height="3" fill="#0000ff" shape-rendering="crispEdges"/>
<rect x="1" y="327" width="7" height="7" fill="#0000ff" />
<rect x="4" y="330" width="1" height="1" fill="#ffffff" />
<rect x="1411" y="327" width="7" height="7" fill="#0000ff" />
<rect x="1414" y="330" width="1" height="1" fill="#ffffff" />
<rect x="2" y="405" width="1415" height="3" fill="#0000ff" shape-rendering="crispEdges"/>
<rect x="2" y="464" width="1415" height="3" fill="#0000ff" shape-rendering="crispEdges"/>
</g>
<polygon points="5,35 12,35 8.5,31" fill="#000"/>
<text x="17" y="36" font-size="9.5" fill="#000" stroke="#000" stroke-width="0.12" letter-spacing="0.1">USDCNH-,Daily</text>
<text x="92" y="36" font-size="9.5" fill="#000" stroke="#000" stroke-width="0.12" letter-spacing="-0.3">7.08942</text>
<text x="128.2" y="36" font-size="9.5" fill="#000" stroke="#000" stroke-width="0.12" letter-spacing="-0.3">7.09515</text>
<text x="164.3" y="36" font-size="9.5" fill="#000" stroke="#000" stroke-width="0.12" letter-spacing="-0.3">7.08723</text>
<text x="200.4" y="36" font-size="9.5" fill="#000" stroke="#000" stroke-width="0.12" letter-spacing="-0.3">7.09437</text>
<rect x="59" y="44" width="111" height="22" fill="#ffffff" />
<rect x="57" y="44" width="115" height="24" fill="#ffffff" />
<rect x="5" y="44" width="52" height="25" fill="url(#gbtn)" />
<rect x="5" y="69" width="109" height="39" fill="url(#gbox)" />
<rect x="9" y="68" width="44" height="1" fill="#a00000" />
<rect x="9" y="69" width="44" height="1" fill="#f87070" />
<path d="M5.5,44.5 H56.5 V68.5 H113.5 V107.5 H5.5 Z" fill="none" stroke="#c40000" stroke-width="1" shape-rendering="crispEdges"/>
<rect x="172" y="44" width="52" height="25" fill="url(#gbtn)" />
<rect x="116" y="69" width="108" height="39" fill="url(#gbox)" />
<rect x="176" y="68" width="44" height="1" fill="#a00000" />
<rect x="176" y="69" width="44" height="1" fill="#f87070" />
<path d="M172.5,44.5 H223.5 V107.5 H116.5 V68.5 H172.5 Z" fill="none" stroke="#c40000" stroke-width="1" shape-rendering="crispEdges"/>
<rect x="59" y="44" width="111" height="22" fill="#a8a8b0" />
<rect x="60" y="45" width="109" height="20" fill="#ffffff" />
<rect x="60" y="45" width="20" height="20" fill="url(#gspin)" />
<rect x="80" y="45" width="1" height="20" fill="#a8a8b0" />
<rect x="149" y="45" width="20" height="20" fill="url(#gspin)" />
<rect x="148" y="45" width="1" height="20" fill="#a8a8b0" />
<polygon points="67.5,53.5 72.5,53.5 70,56.5" fill="#5060c8"/>
<polygon points="155.5,56.5 161.5,56.5 158.5,53.5" fill="#5060c8"/>
<text x="145" y="59" font-size="12" fill="#000" text-anchor="end" font-weight="normal" >1.00</text>
<text x="30" y="60" font-size="11.5" fill="#ffffff" text-anchor="middle" font-weight="normal" letter-spacing="-0.3">SELL</text>
<text x="197.5" y="60" font-size="11.5" fill="#ffffff" text-anchor="middle" font-weight="normal" letter-spacing="-0.3">BUY</text>
<text x="24" y="99" font-size="12" fill="#ffffff" text-anchor="start" font-weight="bold" >7.09</text>
<text x="51" y="99" font-size="33" fill="#ffffff" text-anchor="start" font-weight="normal" letter-spacing="-1">43</text>
<text x="92" y="83" font-size="12" fill="#ffffff" text-anchor="start" font-weight="bold" >7</text>
<text x="134" y="99" font-size="12" fill="#ffffff" text-anchor="start" font-weight="bold" >7.09</text>
<text x="163" y="99" font-size="33" fill="#ffffff" text-anchor="start" font-weight="normal" letter-spacing="-1">66</text>
<text x="203" y="83" font-size="12" fill="#ffffff" text-anchor="start" font-weight="bold" >3</text>
<g clip-path="url(#cmacd)">
<g shape-rendering="crispEdges">
<rect x="2" y="627" width="1" height="36" fill="#c0c0c0" />
<rect x="10" y="627" width="1" height="35" fill="#c0c0c0" />
<rect x="18" y="627" width="1" height="31" fill="#c0c0c0" />
<rect x="26" y="627" width="1" height="29" fill="#c0c0c0" />
<rect x="34" y="627" width="1" height="26" fill="#c0c0c0" />
<rect x="42" y="627" width="1" height="22" fill="#c0c0c0" />
<rect x="50" y="627" width="1" height="19" fill="#c0c0c0" />
<rect x="58" y="627" width="1" height="16" fill="#c0c0c0" />
<rect x="66" y="627" width="1" height="15" fill="#c0c0c0" />
<rect x="74" y="627" width="1" height="13" fill="#c0c0c0" />
<rect x="82" y="627" width="1" height="12" fill="#c0c0c0" />
<rect x="90" y="627" width="1" height="11" fill="#c0c0c0" />
<rect x="98" y="627" width="1" height="11" fill="#c0c0c0" />
<rect x="106" y="627" width="1" height="13" fill="#c0c0c0" />
<rect x="114" y="627" width="1" height="15" fill="#c0c0c0" />
<rect x="122" y="627" width="1" height="18" fill="#c0c0c0" />
<rect x="130" y="627" width="1" height="21" fill="#c0c0c0" />
<rect x="138" y="627" width="1" height="25" fill="#c0c0c0" />
<rect x="146" y="627" width="1" height="28" fill="#c0c0c0" />
<rect x="154" y="627" width="1" height="30" fill="#c0c0c0" />
<rect x="162" y="627" width="1" height="30" fill="#c0c0c0" />
<rect x="170" y="627" width="1" height="28" fill="#c0c0c0" />
<rect x="178" y="627" width="1" height="26" fill="#c0c0c0" />
<rect x="186" y="627" width="1" height="24" fill="#c0c0c0" />
<rect x="194" y="627" width="1" height="21" fill="#c0c0c0" />
<rect x="202" y="627" width="1" height="18" fill="#c0c0c0" />
<rect x="210" y="627" width="1" height="16" fill="#c0c0c0" />
<rect x="218" y="627" width="1" height="14" fill="#c0c0c0" />
<rect x="226" y="627" width="1" height="15" fill="#c0c0c0" />
<rect x="234" y="627" width="1" height="15" fill="#c0c0c0" />
<rect x="242" y="627" width="1" height="14" fill="#c0c0c0" />
<rect x="250" y="627" width="1" height="13" fill="#c0c0c0" />
<rect x="258" y="627" width="1" height="12" fill="#c0c0c0" />
<rect x="266" y="627" width="1" height="12" fill="#c0c0c0" />
<rect x="274" y="627" width="1" height="14" fill="#c0c0c0" />
<rect x="282" y="627" width="1" height="13" fill="#c0c0c0" />
<rect x="290" y="627" width="1" height="11" fill="#c0c0c0" />
<rect x="298" y="627" width="1" height="9" fill="#c0c0c0" />
<rect x="306" y="627" width="1" height="8" fill="#c0c0c0" />
<rect x="314" y="627" width="1" height="6" fill="#c0c0c0" />
<rect x="322" y="627" width="1" height="5" fill="#c0c0c0" />
<rect x="330" y="627" width="1" height="4" fill="#c0c0c0" />
<rect x="338" y="627" width="1" height="4" fill="#c0c0c0" />
<rect x="346" y="627" width="1" height="4" fill="#c0c0c0" />
<rect x="354" y="627" width="1" height="4" fill="#c0c0c0" />
<rect x="362" y="627" width="1" height="4" fill="#c0c0c0" />
<rect x="370" y="627" width="1" height="4" fill="#c0c0c0" />
<rect x="378" y="627" width="1" height="5" fill="#c0c0c0" />
<rect x="386" y="627" width="1" height="4" fill="#c0c0c0" />
<rect x="394" y="627" width="1" height="3" fill="#c0c0c0" />
<rect x="402" y="627" width="1" height="3" fill="#c0c0c0" />
<rect x="410" y="627" width="1" height="4" fill="#c0c0c0" />
<rect x="418" y="627" width="1" height="4" fill="#c0c0c0" />
<rect x="426" y="627" width="1" height="4" fill="#c0c0c0" />
<rect x="434" y="627" width="1" height="6" fill="#c0c0c0" />
<rect x="442" y="627" width="1" height="6" fill="#c0c0c0" />
<rect x="450" y="627" width="1" height="6" fill="#c0c0c0" />
<rect x="458" y="627" width="1" height="5" fill="#c0c0c0" />
<rect x="466" y="627" width="1" height="3" fill="#c0c0c0" />
<rect x="474" y="627" width="1" height="2" fill="#c0c0c0" />
<rect x="482" y="626" width="1" height="2" fill="#c0c0c0" />
<rect x="490" y="625" width="1" height="3" fill="#c0c0c0" />
<rect x="498" y="624" width="1" height="4" fill="#c0c0c0" />
<rect x="506" y="624" width="1" height="4" fill="#c0c0c0" />
<rect x="514" y="623" width="1" height="5" fill="#c0c0c0" />
<rect x="522" y="623" width="1" height="5" fill="#c0c0c0" />
<rect x="530" y="619" width="1" height="9" fill="#c0c0c0" />
<rect x="538" y="615" width="1" height="13" fill="#c0c0c0" />
<rect x="546" y="612" width="1" height="16" fill="#c0c0c0" />
<rect x="554" y="606" width="1" height="22" fill="#c0c0c0" />
<rect x="562" y="602" width="1" height="26" fill="#c0c0c0" />
<rect x="570" y="593" width="1" height="35" fill="#c0c0c0" />
<rect x="578" y="587" width="1" height="41" fill="#c0c0c0" />
<rect x="586" y="583" width="1" height="45" fill="#c0c0c0" />
<rect x="594" y="579" width="1" height="49" fill="#c0c0c0" />
<rect x="602" y="575" width="1" height="53" fill="#c0c0c0" />
<rect x="610" y="573" width="1" height="55" fill="#c0c0c0" />
<rect x="618" y="573" width="1" height="55" fill="#c0c0c0" />
<rect x="626" y="572" width="1" height="56" fill="#c0c0c0" />
<rect x="634" y="574" width="1" height="54" fill="#c0c0c0" />
<rect x="642" y="576" width="1" height="52" fill="#c0c0c0" />
<rect x="650" y="579" width="1" height="49" fill="#c0c0c0" />
<rect x="658" y="581" width="1" height="47" fill="#c0c0c0" />
<rect x="666" y="583" width="1" height="45" fill="#c0c0c0" />
<rect x="674" y="584" width="1" height="44" fill="#c0c0c0" />
<rect x="682" y="585" width="1" height="43" fill="#c0c0c0" />
<rect x="690" y="588" width="1" height="40" fill="#c0c0c0" />
<rect x="698" y="591" width="1" height="37" fill="#c0c0c0" />
<rect x="706" y="593" width="1" height="35" fill="#c0c0c0" />
<rect x="714" y="594" width="1" height="34" fill="#c0c0c0" />
<rect x="722" y="595" width="1" height="33" fill="#c0c0c0" />
<rect x="730" y="596" width="1" height="32" fill="#c0c0c0" />
<rect x="738" y="598" width="1" height="30" fill="#c0c0c0" />
<rect x="746" y="600" width="1" height="28" fill="#c0c0c0" />
<rect x="754" y="602" width="1" height="26" fill="#c0c0c0" />
<rect x="762" y="603" width="1" height="25" fill="#c0c0c0" />
<rect x="770" y="605" width="1" height="23" fill="#c0c0c0" />
<rect x="778" y="609" width="1" height="19" fill="#c0c0c0" />
<rect x="786" y="613" width="1" height="15" fill="#c0c0c0" />
<rect x="794" y="619" width="1" height="9" fill="#c0c0c0" />
<rect x="802" y="623" width="1" height="5" fill="#c0c0c0" />
<rect x="810" y="626" width="1" height="2" fill="#c0c0c0" />
<rect x="834" y="627" width="1" height="2" fill="#c0c0c0" />
<rect x="842" y="627" width="1" height="3" fill="#c0c0c0" />
<rect x="850" y="627" width="1" height="6" fill="#c0c0c0" />
<rect x="858" y="627" width="1" height="5" fill="#c0c0c0" />
<rect x="866" y="627" width="1" height="6" fill="#c0c0c0" />
<rect x="874" y="627" width="1" height="5" fill="#c0c0c0" />
<rect x="882" y="627" width="1" height="5" fill="#c0c0c0" />
<rect x="890" y="627" width="1" height="4" fill="#c0c0c0" />
<rect x="898" y="627" width="1" height="3" fill="#c0c0c0" />
<rect x="906" y="627" width="1" height="2" fill="#c0c0c0" />
<rect x="914" y="627" width="1" height="5" fill="#c0c0c0" />
<rect x="922" y="627" width="1" height="5" fill="#c0c0c0" />
<rect x="930" y="627" width="1" height="5" fill="#c0c0c0" />
<rect x="938" y="627" width="1" height="5" fill="#c0c0c0" />
<rect x="946" y="627" width="1" height="3" fill="#c0c0c0" />
<rect x="954" y="627" width="1" height="5" fill="#c0c0c0" />
<rect x="962" y="627" width="1" height="4" fill="#c0c0c0" />
<rect x="970" y="627" width="1" height="4" fill="#c0c0c0" />
<rect x="978" y="627" width="1" height="2" fill="#c0c0c0" />
<rect x="986" y="627" width="1" height="4" fill="#c0c0c0" />
<rect x="994" y="627" width="1" height="4" fill="#c0c0c0" />
<rect x="1002" y="627" width="1" height="3" fill="#c0c0c0" />
<rect x="1010" y="627" width="1" height="2" fill="#c0c0c0" />
<rect x="1018" y="627" width="1" height="2" fill="#c0c0c0" />
<rect x="1026" y="627" width="1" height="2" fill="#c0c0c0" />
<rect x="1034" y="620" width="1" height="8" fill="#c0c0c0" />
<rect x="1042" y="614" width="1" height="14" fill="#c0c0c0" />
<rect x="1050" y="598" width="1" height="30" fill="#c0c0c0" />
<rect x="1058" y="592" width="1" height="36" fill="#c0c0c0" />
<rect x="1066" y="585" width="1" height="43" fill="#c0c0c0" />
<rect x="1074" y="580" width="1" height="48" fill="#c0c0c0" />
<rect x="1082" y="575" width="1" height="53" fill="#c0c0c0" />
<rect x="1090" y="572" width="1" height="56" fill="#c0c0c0" />
<rect x="1098" y="577" width="1" height="51" fill="#c0c0c0" />
<rect x="1106" y="579" width="1" height="49" fill="#c0c0c0" />
<rect x="1114" y="582" width="1" height="46" fill="#c0c0c0" />
<rect x="1122" y="584" width="1" height="44" fill="#c0c0c0" />
<rect x="1130" y="584" width="1" height="44" fill="#c0c0c0" />
<rect x="1138" y="584" width="1" height="44" fill="#c0c0c0" />
<rect x="1146" y="586" width="1" height="42" fill="#c0c0c0" />
<rect x="1154" y="586" width="1" height="42" fill="#c0c0c0" />
<rect x="1162" y="583" width="1" height="45" fill="#c0c0c0" />
<rect x="1170" y="578" width="1" height="50" fill="#c0c0c0" />
<rect x="1178" y="575" width="1" height="53" fill="#c0c0c0" />
<rect x="1186" y="573" width="1" height="55" fill="#c0c0c0" />
<rect x="1194" y="574" width="1" height="54" fill="#c0c0c0" />
<rect x="1202" y="574" width="1" height="54" fill="#c0c0c0" />
<rect x="1210" y="572" width="1" height="56" fill="#c0c0c0" />
<rect x="1218" y="573" width="1" height="55" fill="#c0c0c0" />
<rect x="1226" y="576" width="1" height="52" fill="#c0c0c0" />
<rect x="1234" y="580" width="1" height="48" fill="#c0c0c0" />
<rect x="1242" y="587" width="1" height="41" fill="#c0c0c0" />
<rect x="1250" y="591" width="1" height="37" fill="#c0c0c0" />
<rect x="1258" y="595" width="1" height="33" fill="#c0c0c0" />
<rect x="1266" y="601" width="1" height="27" fill="#c0c0c0" />
<rect x="1274" y="605" width="1" height="23" fill="#c0c0c0" />
</g>
<polyline points="2.5,656.9 30.5,657.9 45.5,656.9 60.5,654.6 75.5,649.4 90.5,644.1 105.5,641.9 120.5,640.8 131.5,641.4 143.5,643.4 158.5,646.8 173.5,650.1 183.5,652.8 203.5,652.4 216.5,651.3 231.5,648.9 246.5,644.9 269.5,641.9 291.5,640.8 309.5,638.4 336.5,635.8 344.5,633.6 366.5,632.4 381.5,631.0 432.5,631.9 477.5,631.9 500.5,628.5 522.5,625.9 537.5,622.9 555.5,618.4 567.5,613.9 582.5,607.1 597.5,598.1 612.5,589.1 627.5,581.5 642.5,576.7 651.5,575.9 670.5,576.0 678.5,577.3 693.5,580.8 708.5,584.2 723.5,587.9 738.5,591.0 753.5,594.3 768.5,598.5 783.5,601.4 798.5,606.8 813.5,611.9 828.5,617.6 843.5,623.3 855.5,626.7 866.5,630.0 886.5,631.9 939.5,631.9 954.5,630.9 969.5,631.9 984.5,630.9 1014.5,630.9 1029.5,629.7 1041.5,627.0 1052.5,621.8 1067.5,614.6 1078.5,605.9 1082.5,601.8 1089.5,596.6 1098.5,590.6 1107.5,585.3 1115.5,581.5 1125.5,580.8 1130.5,580.0 1155.5,580.8 1163.5,582.7 1172.5,582.7 1178.5,581.5 1196.5,580.0 1200.5,578.8 1212.5,577.8 1223.5,575.2 1235.5,574.8 1241.5,576.3 1247.5,577.8 1254.5,578.5 1263.5,582.0 1271.5,584.8" fill="none" stroke="#ff0000" stroke-width="1" stroke-linejoin="round" shape-rendering="crispEdges" stroke-dasharray="3,3"/>
</g>
<text x="6.5" y="577.5" font-size="9.5" fill="#000" text-anchor="start" font-weight="normal" stroke="#000" stroke-width="0.12" letter-spacing="0.05">MACD(12,26,9)</text>
<text x="75.5" y="577.5" font-size="9.5" fill="#000" text-anchor="start" font-weight="normal" stroke="#000" stroke-width="0.12" letter-spacing="-0.25">0.023323</text>
<text x="116" y="577.5" font-size="9.5" fill="#000" text-anchor="start" font-weight="normal" stroke="#000" stroke-width="0.12" letter-spacing="-0.25">0.041625</text>
<g clip-path="url(#crsi)">
<rect x="2" y="710" width="1415" height="1" fill="#c0c0c0" shape-rendering="crispEdges" style="display:none"/>
<line x1="3" y1="710.5" x2="1417" y2="710.5" stroke="#c0c0c0" stroke-dasharray="3,3"/>
<line x1="3" y1="761.5" x2="1417" y2="761.5" stroke="#c0c0c0" stroke-dasharray="3,3"/>
<polyline points="2.5,765.1 10.5,746.4 18.5,740.9 26.5,744.8 34.5,740.5 42.5,738.1 50.5,738.1 58.5,733.9 66.5,741.7 74.5,738.1 82.5,739.4 90.5,740.9 98.5,740.9 106.5,749.5 114.5,754.9 122.5,750.7 130.5,755.7 138.5,758.8 146.5,758.8 154.5,761.5 162.5,752.6 170.5,744.8 178.5,747.9 186.5,749.0 194.5,744.8 202.5,737.8 210.5,739.4 218.5,739.0 226.5,745.9 234.5,747.9 242.5,739.9 250.5,742.9 258.5,739.9 266.5,741.0 274.5,751.9 282.5,741.4 290.5,736.1 298.5,739.9 306.5,736.9 314.5,731.9 322.5,731.9 330.5,737.6 338.5,737.6 346.5,735.8 354.5,741.0 362.5,739.9 370.5,742.9 378.5,737.9 386.5,737.9 394.5,737.9 402.5,733.9 410.5,742.5 418.5,744.0 426.5,738.8 434.5,753.0 442.5,740.3 450.5,736.4 458.5,731.6 466.5,728.6 474.5,724.9 482.5,728.9 490.5,728.9 498.5,728.9 506.5,732.8 514.5,725.9 522.5,730.9 530.5,715.1 538.5,712.8 546.5,711.3 554.5,703.8 562.5,702.8 570.5,694.0 578.5,698.8 586.5,698.8 594.5,695.8 602.5,694.8 610.5,699.3 618.5,703.1 626.5,700.8 634.5,706.1 642.5,711.8 650.5,713.9 658.5,711.8 666.5,709.8 674.5,708.0 682.5,709.8 690.5,717.8 698.5,716.6 706.5,715.1 714.5,714.8 722.5,710.9 730.5,710.9 738.5,721.9 746.5,720.8 754.5,719.9 762.5,718.8 770.5,720.3 778.5,739.4 786.5,741.0 794.5,753.0 802.5,749.7 810.5,744.9 818.5,741.0 826.5,741.0 834.5,745.5 842.5,747.0 850.5,751.9 858.5,738.8 866.5,738.8 874.5,742.5 882.5,732.8 890.5,735.8 898.5,733.9 906.5,742.9 914.5,741.0 922.5,738.8 930.5,741.9 938.5,737.9 946.5,739.9 954.5,741.9 962.5,736.9 970.5,736.9 978.5,735.8 986.5,741.9 994.5,742.9 1002.5,737.9 1010.5,729.8 1018.5,731.9 1026.5,722.6 1034.5,704.3 1042.5,702.8 1050.5,686.8 1058.5,711.8 1066.5,707.9 1074.5,708.8 1082.5,707.9 1090.5,706.8 1098.5,727.4 1106.5,722.9 1114.5,723.8 1122.5,723.8 1130.5,719.9 1138.5,719.9 1146.5,720.8 1154.5,717.8 1162.5,710.9 1170.5,706.8 1178.5,707.9 1186.5,707.9 1194.5,715.8 1202.5,712.8 1210.5,708.8 1218.5,712.8 1226.5,721.4 1234.5,723.4 1242.5,733.4 1250.5,729.8 1258.5,731.3 1266.5,736.9 1274.5,735.8" fill="none" stroke="#1e90ff" stroke-width="1" stroke-linejoin="round" shape-rendering="crispEdges" />
<polygon points="2,794 2,799 7,799" fill="#c8c8c8"/>
</g>
<text x="6" y="683" font-size="9.5" fill="#000" text-anchor="start" font-weight="normal" stroke="#000" stroke-width="0.12" letter-spacing="0">RSI(14)</text>
<text x="40.8" y="683" font-size="9.5" fill="#000" text-anchor="start" font-weight="normal" stroke="#000" stroke-width="0.12" letter-spacing="-0.2">50.6193</text>
<g shape-rendering="crispEdges" fill="none" stroke="#000" stroke-width="1">
<rect x="1.5" y="24.5" width="1416" height="539"/>
<rect x="1.5" y="565.5" width="1416" height="103"/>
<rect x="1.5" y="670.5" width="1416" height="130"/>
</g>
<rect x="1418" y="32" width="3" height="1" fill="#000" />
<text x="1423" y="36" font-size="9.5" fill="#000" text-anchor="start" font-weight="normal" stroke="#000" stroke-width="0.12" letter-spacing="-0.3">7.21390</text>
<rect x="1418" y="65" width="3" height="1" fill="#000" />
<text x="1423" y="69" font-size="9.5" fill="#000" text-anchor="start" font-weight="normal" stroke="#000" stroke-width="0.12" letter-spacing="-0.3">7.17990</text>
<rect x="1418" y="98" width="3" height="1" fill="#000" />
<text x="1423" y="102" font-size="9.5" fill="#000" text-anchor="start" font-weight="normal" stroke="#000" stroke-width="0.12" letter-spacing="-0.3">7.14490</text>
<rect x="1418" y="131" width="3" height="1" fill="#000" />
<text x="1423" y="135" font-size="9.5" fill="#000" text-anchor="start" font-weight="normal" stroke="#000" stroke-width="0.12" letter-spacing="-0.3">7.10990</text>
<rect x="1418" y="164" width="3" height="1" fill="#000" />
<text x="1423" y="168" font-size="9.5" fill="#000" text-anchor="start" font-weight="normal" stroke="#000" stroke-width="0.12" letter-spacing="-0.3">7.07490</text>
<rect x="1418" y="197" width="3" height="1" fill="#000" />
<text x="1423" y="201" font-size="9.5" fill="#000" text-anchor="start" font-weight="normal" stroke="#000" stroke-width="0.12" letter-spacing="-0.3">7.04090</text>
<rect x="1418" y="230" width="3" height="1" fill="#000" />
<text x="1423" y="234" font-size="9.5" fill="#000" text-anchor="start" font-weight="normal" stroke="#000" stroke-width="0.12" letter-spacing="-0.3">7.00590</text>
<rect x="1418" y="263" width="3" height="1" fill="#000" />
<text x="1423" y="267" font-size="9.5" fill="#000" text-anchor="start" font-weight="normal" stroke="#000" stroke-width="0.12" letter-spacing="-0.3">6.97090</text>
<rect x="1418" y="296" width="3" height="1" fill="#000" />
<text x="1423" y="300" font-size="9.5" fill="#000" text-anchor="start" font-weight="normal" stroke="#000" stroke-width="0.12" letter-spacing="-0.3">6.93590</text>
<rect x="1418" y="329" width="3" height="1" fill="#000" />
<text x="1423" y="333" font-size="9.5" fill="#000" text-anchor="start" font-weight="normal" stroke="#000" stroke-width="0.12" letter-spacing="-0.3">6.90190</text>
<rect x="1418" y="362" width="3" height="1" fill="#000" />
<text x="1423" y="366" font-size="9.5" fill="#000" text-anchor="start" font-weight="normal" stroke="#000" stroke-width="0.12" letter-spacing="-0.3">6.86690</text>
<rect x="1418" y="395" width="3" height="1" fill="#000" />
<text x="1423" y="399" font-size="9.5" fill="#000" text-anchor="start" font-weight="normal" stroke="#000" stroke-width="0.12" letter-spacing="-0.3">6.83190</text>
<rect x="1418" y="428" width="3" height="1" fill="#000" />
<text x="1423" y="432" font-size="9.5" fill="#000" text-anchor="start" font-weight="normal" stroke="#000" stroke-width="0.12" letter-spacing="-0.3">6.79790</text>
<rect x="1418" y="461" width="3" height="1" fill="#000" />
<text x="1423" y="465" font-size="9.5" fill="#000" text-anchor="start" font-weight="normal" stroke="#000" stroke-width="0.12" letter-spacing="-0.3">6.76290</text>
<rect x="1418" y="494" width="3" height="1" fill="#000" />
<text x="1423" y="498" font-size="9.5" fill="#000" text-anchor="start" font-weight="normal" stroke="#000" stroke-width="0.12" letter-spacing="-0.3">6.72790</text>
<rect x="1418" y="527" width="3" height="1" fill="#000" />
<text x="1423" y="531" font-size="9.5" fill="#000" text-anchor="start" font-weight="normal" stroke="#000" stroke-width="0.12" letter-spacing="-0.3">6.69290</text>
<rect x="1418" y="560" width="3" height="1" fill="#000" />
<text x="1423" y="564" font-size="9.5" fill="#000" text-anchor="start" font-weight="normal" stroke="#000" stroke-width="0.12" letter-spacing="-0.3">6.65890</text>
<rect x="1419" y="141" width="41" height="11" fill="#000000" />
<text x="1423" y="150" font-size="9.5" fill="#fff" text-anchor="start" font-weight="normal" stroke="#fff" stroke-width="0.12" letter-spacing="-0.3">7.09437</text>
<rect x="1419" y="134" width="41" height="11" fill="#ff0000" />
<text x="1423" y="143" font-size="9.5" fill="#fff" text-anchor="start" font-weight="normal" stroke="#fff" stroke-width="0.12" letter-spacing="-0.3">7.10029</text>
<rect x="1419" y="229" width="41" height="11" fill="#00ff00" />
<text x="1423" y="238" font-size="9.5" fill="#fff" text-anchor="start" font-weight="normal" stroke="#fff" stroke-width="0.12" letter-spacing="-0.3">7.00048</text>
<rect x="1419" y="324" width="41" height="11" fill="#0000ff" />
<text x="1423" y="333" font-size="9.5" fill="#fff" text-anchor="start" font-weight="normal" stroke="#fff" stroke-width="0.12" letter-spacing="-0.3">6.90100</text>
<rect x="1419" y="400" width="41" height="11" fill="#0000ff" />
<text x="1423" y="409" font-size="9.5" fill="#fff" text-anchor="start" font-weight="normal" stroke="#fff" stroke-width="0.12" letter-spacing="-0.3">6.82103</text>
<rect x="1419" y="459" width="41" height="11" fill="#0000ff" />
<text x="1423" y="468" font-size="9.5" fill="#fff" text-anchor="start" font-weight="normal" stroke="#fff" stroke-width="0.12" letter-spacing="-0.3">6.75804</text>
<rect x="1411" y="137" width="7" height="7" fill="#ff0000" />
<rect x="1414" y="140" width="1" height="1" fill="#fff" />
<rect x="1411" y="232" width="7" height="7" fill="#00ff00" />
<rect x="1414" y="235" width="1" height="1" fill="#fff" />
<rect x="1411" y="327" width="7" height="7" fill="#0000ff" />
<rect x="1414" y="330" width="1" height="1" fill="#fff" />
<rect x="1418" y="566" width="3" height="1" fill="#000" />
<rect x="1418" y="627" width="3" height="1" fill="#000" />
<rect x="1418" y="667" width="3" height="1" fill="#000" />
<text x="1421" y="576" font-size="9.5" fill="#000" text-anchor="start" font-weight="normal" stroke="#000" stroke-width="0.12" letter-spacing="-0.3">0.060674</text>
<text x="1421" y="631" font-size="9.5" fill="#000" text-anchor="start" font-weight="normal" stroke="#000" stroke-width="0.12" letter-spacing="-0.3">0.00</text>
<text x="1421" y="665" font-size="9.5" fill="#000" text-anchor="start" font-weight="normal" stroke="#000" stroke-width="0.12" letter-spacing="-0.3">-0.040152</text>
<text x="1421" y="681" font-size="9.5" fill="#000" text-anchor="start" font-weight="normal" stroke="#000" stroke-width="0.12" letter-spacing="-0.3">100</text>
<text x="1421" y="713" font-size="9.5" fill="#000" text-anchor="start" font-weight="normal" stroke="#000" stroke-width="0.12" letter-spacing="-0.3">70</text>
<text x="1421" y="764.5" font-size="9.5" fill="#000" text-anchor="start" font-weight="normal" stroke="#000" stroke-width="0.12" letter-spacing="-0.3">30</text>
<text x="1421" y="796" font-size="9.5" fill="#000" text-anchor="start" font-weight="normal" stroke="#000" stroke-width="0.12" letter-spacing="-0.3">0</text>
<rect x="2" y="801" width="1" height="3" fill="#000" />
<text x="1" y="813" font-size="9.5" fill="#000" text-anchor="start" font-weight="normal" stroke="#000" stroke-width="0.12" letter-spacing="-0.2">31 Jan 2019</text>
<rect x="66" y="801" width="1" height="3" fill="#000" />
<text x="65" y="813" font-size="9.5" fill="#000" text-anchor="start" font-weight="normal" stroke="#000" stroke-width="0.12" letter-spacing="-0.2">12 Feb 2019</text>
<rect x="130" y="801" width="1" height="3" fill="#000" />
<text x="129" y="813" font-size="9.5" fill="#000" text-anchor="start" font-weight="normal" stroke="#000" stroke-width="0.12" letter-spacing="-0.2">22 Feb 2019</text>
<rect x="194" y="801" width="1" height="3" fill="#000" />
<text x="193" y="813" font-size="9.5" fill="#000" text-anchor="start" font-weight="normal" stroke="#000" stroke-width="0.12" letter-spacing="-0.2">6 Mar 2019</text>
<rect x="258" y="801" width="1" height="3" fill="#000" />
<text x="257" y="813" font-size="9.5" fill="#000" text-anchor="start" font-weight="normal" stroke="#000" stroke-width="0.12" letter-spacing="-0.2">18 Mar 2019</text>
<rect x="322" y="801" width="1" height="3" fill="#000" />
<text x="321" y="813" font-size="9.5" fill="#000" text-anchor="start" font-weight="normal" stroke="#000" stroke-width="0.12" letter-spacing="-0.2">28 Mar 2019</text>
<rect x="386" y="801" width="1" height="3" fill="#000" />
<text x="385" y="813" font-size="9.5" fill="#000" text-anchor="start" font-weight="normal" stroke="#000" stroke-width="0.12" letter-spacing="-0.2">9 Apr 2019</text>
<rect x="450" y="801" width="1" height="3" fill="#000" />
<text x="449" y="813" font-size="9.5" fill="#000" text-anchor="start" font-weight="normal" stroke="#000" stroke-width="0.12" letter-spacing="-0.2">22 Apr 2019</text>
<rect x="514" y="801" width="1" height="3" fill="#000" />
<text x="513" y="813" font-size="9.5" fill="#000" text-anchor="start" font-weight="normal" stroke="#000" stroke-width="0.12" letter-spacing="-0.2">2 May 2019</text>
<rect x="578" y="801" width="1" height="3" fill="#000" />
<text x="577" y="813" font-size="9.5" fill="#000" text-anchor="start" font-weight="normal" stroke="#000" stroke-width="0.12" letter-spacing="-0.2">14 May 2019</text>
<rect x="642" y="801" width="1" height="3" fill="#000" />
<text x="641" y="813" font-size="9.5" fill="#000" text-anchor="start" font-weight="normal" stroke="#000" stroke-width="0.12" letter-spacing="-0.2">24 May 2019</text>
<rect x="706" y="801" width="1" height="3" fill="#000" />
<text x="705" y="813" font-size="9.5" fill="#000" text-anchor="start" font-weight="normal" stroke="#000" stroke-width="0.12" letter-spacing="-0.2">5 Jun 2019</text>
<rect x="770" y="801" width="1" height="3" fill="#000" />
<text x="769" y="813" font-size="9.5" fill="#000" text-anchor="start" font-weight="normal" stroke="#000" stroke-width="0.12" letter-spacing="-0.2">17 Jun 2019</text>
<rect x="834" y="801" width="1" height="3" fill="#000" />
<text x="833" y="813" font-size="9.5" fill="#000" text-anchor="start" font-weight="normal" stroke="#000" stroke-width="0.12" letter-spacing="-0.2">27 Jun 2019</text>
<rect x="898" y="801" width="1" height="3" fill="#000" />
<text x="897" y="813" font-size="9.5" fill="#000" text-anchor="start" font-weight="normal" stroke="#000" stroke-width="0.12" letter-spacing="-0.2">9 Jul 2019</text>
<rect x="962" y="801" width="1" height="3" fill="#000" />
<text x="961" y="813" font-size="9.5" fill="#000" text-anchor="start" font-weight="normal" stroke="#000" stroke-width="0.12" letter-spacing="-0.2">19 Jul 2019</text>
<rect x="1026" y="801" width="1" height="3" fill="#000" />
<text x="1025" y="813" font-size="9.5" fill="#000" text-anchor="start" font-weight="normal" stroke="#000" stroke-width="0.12" letter-spacing="-0.2">31 Jul 2019</text>
<rect x="1090" y="801" width="1" height="3" fill="#000" />
<text x="1089" y="813" font-size="9.5" fill="#000" text-anchor="start" font-weight="normal" stroke="#000" stroke-width="0.12" letter-spacing="-0.2">12 Aug 2019</text>
<rect x="1154" y="801" width="1" height="3" fill="#000" />
<text x="1153" y="813" font-size="9.5" fill="#000" text-anchor="start" font-weight="normal" stroke="#000" stroke-width="0.12" letter-spacing="-0.2">22 Aug 2019</text>
<rect x="1218" y="801" width="1" height="3" fill="#000" />
<text x="1217" y="813" font-size="9.5" fill="#000" text-anchor="start" font-weight="normal" stroke="#000" stroke-width="0.12" letter-spacing="-0.2">3 Sep 2019</text>
<rect x="0" y="821" width="1463" height="1" fill="#e0e0e0" />
<rect x="0" y="823" width="1463" height="1" fill="#000000" />
<rect x="0" y="824" width="1463" height="19" fill="#f0f0f0" />
<rect x="0" y="824" width="1463" height="1" fill="#ffffff" />
<rect x="0" y="843" width="1463" height="1" fill="#ffffff" />
<rect x="0" y="844" width="1463" height="3" fill="#e8e8e8" />
<rect x="0" y="847" width="1462" height="1" fill="#a0a0a0" />
<rect x="435" y="823" width="112" height="19" fill="#000000" />
<rect x="436" y="823" width="110" height="18" fill="#ffffff" />
<text x="14" y="838" font-size="12" fill="#6d6d6d" text-anchor="start" font-weight="normal" letter-spacing="-0.1">EURUSD-,Daily</text>
<text x="121" y="838" font-size="12" fill="#6d6d6d" text-anchor="start" font-weight="normal" letter-spacing="-0.1">AUDUSD-,Daily</text>
<text x="231" y="838" font-size="12" fill="#6d6d6d" text-anchor="start" font-weight="normal" letter-spacing="-0.1">USDCHF-,Daily</text>
<text x="338" y="838" font-size="12" fill="#6d6d6d" text-anchor="start" font-weight="normal" letter-spacing="-0.1">USDCAD-,Daily</text>
<text x="558" y="838" font-size="12" fill="#6d6d6d" text-anchor="start" font-weight="normal" letter-spacing="-0.1">EURCHF-,Weekly</text>
<text x="679" y="838" font-size="12" fill="#6d6d6d" text-anchor="start" font-weight="normal" letter-spacing="-0.1">XAUUSD-,Weekly</text>
<text x="802" y="838" font-size="12" fill="#6d6d6d" text-anchor="start" font-weight="normal" letter-spacing="-0.1">GBPUSD-,H1</text>
<text x="898" y="838" font-size="12" fill="#6d6d6d" text-anchor="start" font-weight="normal" letter-spacing="-0.1">UKOil-,H1</text>
<text x="977" y="838" font-size="12" fill="#6d6d6d" text-anchor="start" font-weight="normal" letter-spacing="-0.1">USDX-,Weekly</text>
<text x="1082" y="838" font-size="12" fill="#6d6d6d" text-anchor="start" font-weight="normal" letter-spacing="-0.1">EURCHF-,Weekly</text>
<text x="447" y="838" font-size="12" fill="#000" text-anchor="start" font-weight="normal" letter-spacing="0.2">USDCNH-,Daily</text>
<rect x="111" y="826" width="1" height="14" fill="#707070" />
<rect x="219" y="826" width="1" height="14" fill="#707070" />
<rect x="327" y="826" width="1" height="14" fill="#707070" />
<rect x="668" y="826" width="1" height="14" fill="#707070" />
<rect x="791" y="826" width="1" height="14" fill="#707070" />
<rect x="887" y="826" width="1" height="14" fill="#707070" />
<rect x="967" y="826" width="1" height="14" fill="#707070" />
<rect x="1071" y="826" width="1" height="14" fill="#707070" />
<rect x="1191" y="826" width="1" height="14" fill="#707070" />
<polygon points="1436,829 1436,836 1432.5,832.5" fill="#8c8c8c"/>
<polygon points="1452,829 1452,836 1455.5,832.5" fill="#8c8c8c"/>
</svg></body></html>
